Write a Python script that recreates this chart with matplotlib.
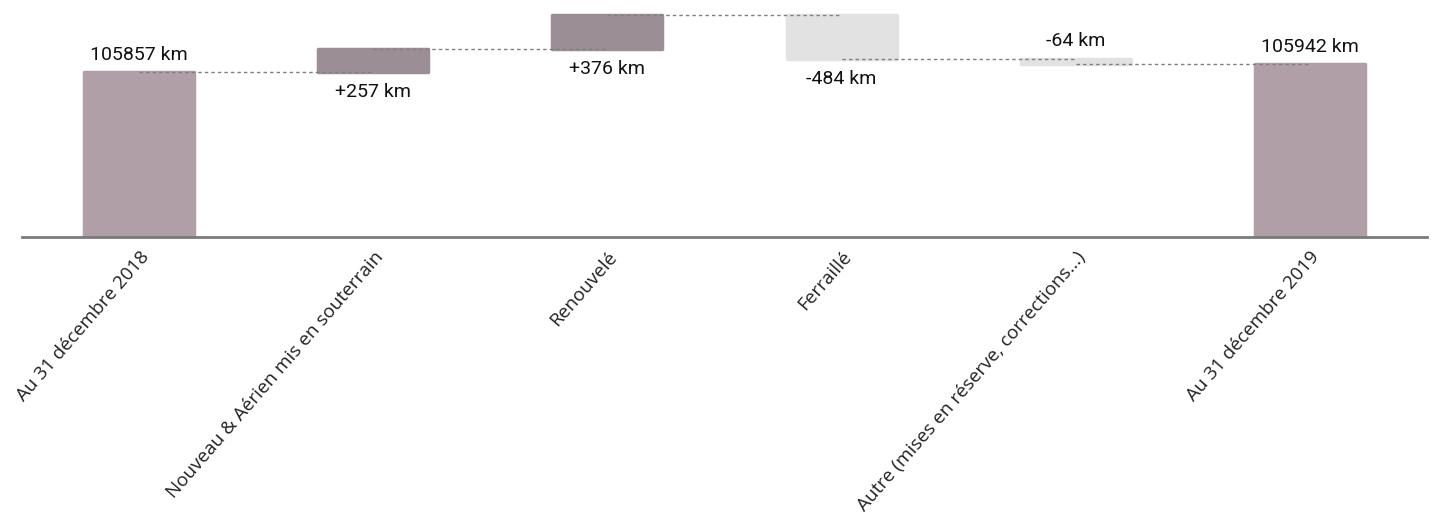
import numpy as np
import matplotlib.pyplot as plt

# longueur du réseau (km) : départ, variations, arrivée
categories = ["Au 31 décembre 2018", "Nouveau & Aérien mis en souterrain", "Renouvelé",
              "Ferraillé", "Autre (mises en réserve, corrections...)", "Au 31 décembre 2019"]
start_km = 105857
changes_km = [257, 376, -484, -64]
end_km = 105942

label_pos = ["above", "below", "below", "below", "above", "above"]

col_total = "#b09fa6"
col_up = "#9b8f95"
col_down = "#e2e2e2"

bottoms = [0]
heights = [start_km]
colors = [col_total]
level = start_km
levels = [start_km]
for c in changes_km:
    if c >= 0:
        bottoms.append(level)
        heights.append(c)
        colors.append(col_up)
    else:
        bottoms.append(level + c)
        heights.append(-c)
        colors.append(col_down)
    level += c
    levels.append(level)
bottoms.append(0)
heights.append(end_km)
colors.append(col_total)

labels = [f"{start_km} km"] + [f"{c:+d} km" for c in changes_km] + [f"{end_km} km"]

fig = plt.figure(figsize=(14.34, 5.22), dpi=100)
ax = fig.add_axes([0.0153, 0.546, 0.9798, 0.454])

x = np.arange(len(categories))
ax.bar(x, heights, bottom=bottoms, width=0.47, color=colors, edgecolor=colors,
       linewidth=2.5, joinstyle="round", zorder=2)

# pointillés entre les barres
for i in range(len(levels)):
    ax.hlines(levels[i], x[i], x[i + 1], colors="#808080", linewidth=1,
              linestyles=(0, (2.5, 2.2)), zorder=3)

ax.set_xlim(-0.5, len(categories) - 0.5)
ax.set_ylim(104025, 106657)

for i in range(len(categories)):
    top = bottoms[i] + heights[i]
    if label_pos[i] == "above":
        ax.annotate(labels[i], (x[i], top), xytext=(0, 6), textcoords="offset points",
                    ha="center", va="bottom", fontsize=14, family="Roboto", color="#111111")
    else:
        ax.annotate(labels[i], (x[i], bottoms[i]), xytext=(0, -8), textcoords="offset points",
                    ha="center", va="top", fontsize=14, family="Roboto", color="#111111")

ax.set_xticks(x)
ax.set_xticklabels(categories, rotation=49, ha="right", rotation_mode="anchor",
                   fontsize=13.6, family="Open Sans", color="#222222")
ax.tick_params(axis="x", length=0, pad=8)
ax.set_yticks([])
for s in ["top", "right", "left"]:
    ax.spines[s].set_visible(False)
ax.spines["bottom"].set_color("#7a7a7a")
ax.spines["bottom"].set_linewidth(2)

fig.savefig("out.png", dpi=100)
